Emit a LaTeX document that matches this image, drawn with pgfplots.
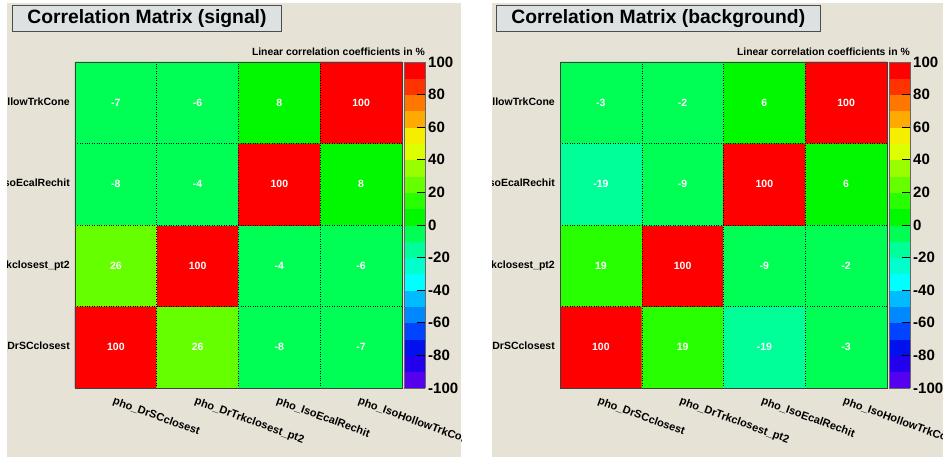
\documentclass[border=0pt]{standalone}
\usepackage{fontspec}
\setmainfont{Liberation Sans}
\usepackage{pgfplots}
\usepackage{pgfplotstable}
\pgfplotsset{compat=1.18}

\definecolor{canvas}{RGB}{230,226,214}
\definecolor{titlebox}{RGB}{220,226,226}

% ROOT style palette, 20 bins from -100 to 100
\pgfplotsset{
  colormap={rootcorr}{
    rgb255=(85,0,238) rgb255=(34,0,238) rgb255=(0,17,238) rgb255=(0,68,255)
    rgb255=(0,136,255) rgb255=(0,187,255) rgb255=(0,255,255) rgb255=(0,255,204)
    rgb255=(0,255,153) rgb255=(0,255,85) rgb255=(0,248,0) rgb255=(40,255,0)
    rgb255=(102,255,0) rgb255=(153,255,0) rgb255=(221,255,0) rgb255=(245,238,0)
    rgb255=(255,170,0) rgb255=(255,119,0) rgb255=(255,51,0) rgb255=(255,0,0)},
  corrmat/.style={
    scale only axis, width=327pt, height=326pt, anchor=south west,
    xmin=-0.5, xmax=3.5, ymin=-0.5, ymax=3.5,
    xtick={0,1,2,3}, ytick={0,1,2,3},
    xticklabels={pho\_DrSCclosest,pho\_DrTrkclosest\_pt2,pho\_IsoEcalRechit,pho\_IsoHollowTrkCone},
    yticklabels={pho\_DrSCclosest,pho\_DrTrkclosest\_pt2,pho\_IsoEcalRechit,pho\_IsoHollowTrkCone},
    major tick length=0pt, minor tick length=0pt,
    minor xtick={0.5,1.5,2.5}, minor ytick={0.5,1.5,2.5},
    xminorgrids, yminorgrids,
    minor grid style={black, dotted, line width=0.5pt},
    axis on top,
    axis line style={black!75, line width=0.8pt},
    xticklabel style={font=\bfseries\fontsize{11}{12}\selectfont, inner sep=0pt,
      xshift=-1pt, yshift=-8pt, rotate=-20, anchor=north west},
    yticklabel style={font=\bfseries\fontsize{10.5}{12}\selectfont, inner sep=0pt,
      anchor=east, xshift=-5pt},
    colormap name=rootcorr,
    colormap access=piecewise constant,
    point meta min=-100, point meta max=100,
    colorbar,
    colorbar style={
      at={(parent axis.north east)}, anchor=north west, xshift=-6.5pt,
      width=21pt,
      ytick={-100,-80,...,100},
      tick pos=right, ytick pos=right, yticklabel pos=right,
      major tick length=8pt, tick align=inside,
      tick style={black, line width=0.8pt},
      axis line style={black!60, line width=0.6pt},
      yticklabel style={font=\bfseries\fontsize{15}{16}\selectfont, inner sep=0pt, xshift=3pt},
      /pgf/number format/assume math mode=true,
    },
  },
  cellnums/.style={
    draw=none, mark=none,
    point meta=explicit symbolic,
    nodes near coords,
    nodes near coords style={anchor=center, white, font=\bfseries\fontsize{10.5}{12}\selectfont},
  },
}

\pgfplotstableread{
x y c
0 0 100
1 0 26
2 0 -8
3 0 -7
0 1 26
1 1 100
2 1 -4
3 1 -6
0 2 -8
1 2 -4
2 2 100
3 2 8
0 3 -7
1 3 -6
2 3 8
3 3 100
}\sigtab

\pgfplotstableread{
x y c
0 0 100
1 0 19
2 0 -19
3 0 -3
0 1 19
1 1 100
2 1 -9
3 1 -2
0 2 -19
1 2 -9
2 2 100
3 2 6
0 3 -3
1 3 -2
2 3 6
3 3 100
}\bkgtab

\begin{document}
\begin{tikzpicture}
\fill[white] (0pt,0pt) rectangle (943pt,457pt);

% signal
\begin{scope}
\fill[canvas] (7pt,0pt) rectangle (461pt,454pt);
\clip (7pt,0pt) rectangle (461pt,454pt);
\begin{axis}[corrmat, at={(75pt,69pt)}]
\addplot[matrix plot*, point meta=explicit, mesh/cols=4] table[meta=c] {\sigtab};
\addplot[cellnums] table[meta=c] {\sigtab};
\end{axis}
\node[anchor=north west, fill=titlebox, draw=black!70, line width=0.8pt,
  minimum height=26pt, inner xsep=15pt, font=\bfseries\fontsize{19.3}{21}\selectfont]
  at (12pt,452pt) {Correlation Matrix (signal)};
\node[anchor=base east, inner sep=0pt, font=\bfseries\fontsize{10.4}{12}\selectfont]
  at (425pt,401pt) {Linear correlation coefficients in \%};
\end{scope}

% background
\begin{scope}[xshift=485pt]
\fill[canvas] (7pt,0pt) rectangle (461pt,454pt);
\clip (7pt,0pt) rectangle (461pt,454pt);
\begin{axis}[corrmat, at={(75pt,69pt)}]
\addplot[matrix plot*, point meta=explicit, mesh/cols=4] table[meta=c] {\bkgtab};
\addplot[cellnums] table[meta=c] {\bkgtab};
\end{axis}
\node[anchor=north west, fill=titlebox, draw=black!70, line width=0.8pt,
  minimum height=26pt, inner xsep=15pt, font=\bfseries\fontsize{19.3}{21}\selectfont]
  at (11pt,452pt) {Correlation Matrix (background)};
\node[anchor=base east, inner sep=0pt, font=\bfseries\fontsize{10.4}{12}\selectfont]
  at (425pt,401pt) {Linear correlation coefficients in \%};
\end{scope}

\pgfresetboundingbox
\path[use as bounding box] (0pt,0pt) rectangle (943pt,457pt);
\end{tikzpicture}
\end{document}
